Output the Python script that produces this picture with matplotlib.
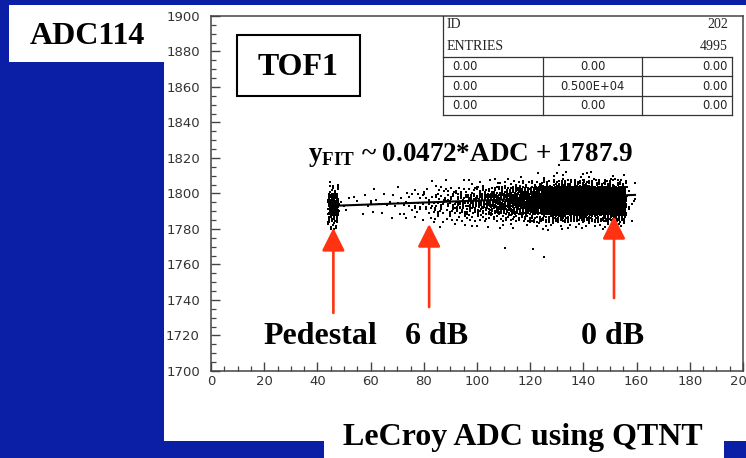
import numpy as np
import matplotlib
matplotlib.use('Agg')
import matplotlib.pyplot as plt
from matplotlib.patches import Rectangle
from matplotlib.lines import Line2D

# ---------------- data ----------------
x_bin_edges = [44, 48, 52, 56, 60, 64, 68, 72, 76, 80, 84, 88, 92, 96, 100, 104,
               108, 112, 116, 120, 124, 128, 132, 136, 140, 144, 148, 152, 156, 160]
y_bin_edges = [1780, 1784, 1788, 1792, 1796, 1800, 1804, 1808, 1812]
# counts per ADC bin (rows) and TOF bin (columns)
cloud_counts = [
    [9, 16, 35, 45, 30, 9, 2, 0],        # 44  pedestal
    [0, 0, 1, 2, 1, 0, 0, 0],            # 48
    [0, 0, 0, 1, 1, 0, 0, 0],            # 52
    [0, 0, 1, 2, 1, 0, 0, 0],            # 56
    [0, 0, 1, 2, 1, 1, 0, 0],            # 60
    [0, 0, 1, 2, 1, 0, 0, 0],            # 64
    [0, 1, 1, 2, 2, 1, 0, 0],            # 68
    [0, 1, 2, 3, 2, 1, 0, 0],            # 72
    [0, 2, 3, 4, 3, 1, 0, 0],            # 76
    [0, 2, 4, 5, 4, 2, 1, 0],            # 80
    [1, 3, 6, 7, 6, 3, 1, 0],            # 84
    [1, 3, 7, 9, 8, 4, 1, 0],            # 88
    [1, 4, 9, 12, 10, 5, 1, 0],          # 92
    [1, 5, 10, 14, 13, 6, 2, 0],         # 96
    [1, 5, 12, 17, 16, 8, 2, 0],         # 100
    [1, 6, 15, 21, 20, 10, 3, 0],        # 104
    [2, 7, 18, 26, 25, 13, 3, 0],        # 108
    [2, 8, 21, 31, 30, 16, 4, 0],        # 112
    [2, 9, 25, 37, 36, 20, 5, 1],        # 116
    [2, 11, 32, 48, 47, 26, 6, 1],       # 120
    [3, 13, 42, 66, 64, 36, 9, 1],       # 124
    [3, 15, 52, 82, 80, 45, 11, 2],      # 128
    [3, 16, 58, 92, 90, 50, 12, 2],      # 132
    [3, 17, 60, 96, 96, 53, 13, 2],      # 136
    [3, 16, 58, 92, 91, 50, 12, 2],      # 140
    [3, 15, 53, 84, 83, 46, 10, 1],      # 144
    [4, 17, 56, 88, 88, 50, 11, 2],      # 148
    [4, 17, 54, 84, 84, 46, 10, 2],      # 152
    [0, 1, 2, 3, 3, 2, 1, 0],            # 156
]
outlier_x = [110.7, 121.0, 125.0, 126.7, 130.8, 143.0]
outlier_y = [1769.5, 1769.0, 1764.0, 1779.2, 1816.0, 1812.0]

fit_x = [44.7, 159.4]
fit_y = [1793.0, 1799.2]
fit_label = '0.0472*ADC + 1787.9'

arrow_x = [46.0, 82.0, 151.5]
arrow_tip = [1780.6, 1782.8, 1787.3]
arrow_tail = [1732.7, 1736.0, 1741.1]
arrow_labels = ['Pedestal', '6 dB', '0 dB']

x_major = list(range(0, 201, 20))
y_major = list(range(1700, 1901, 20))

stats_id = ('ID', '202')
stats_entries = ('ENTRIES', '4995')
stats_rows = [['0.00', '0.00', '0.00'],
              ['0.00', '0.500E+04', '0.00'],
              ['0.00', '0.00', '0.00']]

title_left = 'ADC114'
title_box = 'TOF1'
xlabel = 'LeCroy ADC using QTNT'

# ---------------- figure ----------------
W, H = 746, 458
BLUE = '#0a1fa6'
RED = '#ff3311'
SERIF = ['Liberation Serif', 'DejaVu Serif']

plt.rcParams['mathtext.fontset'] = 'custom'
plt.rcParams['mathtext.bf'] = 'Liberation Serif:bold'
plt.rcParams['mathtext.rm'] = 'Liberation Serif:bold'

fig = plt.figure(figsize=(W / 100, H / 100), dpi=100, facecolor=BLUE)

bg = fig.add_axes([0, 0, 1, 1], zorder=0)
bg.set_xlim(0, W); bg.set_ylim(H, 0); bg.axis('off')
bg.add_patch(Rectangle((164, 5), W - 164, 441 - 5, facecolor='white', edgecolor='none'))
bg.add_patch(Rectangle((324, 440), 724 - 324, H - 440, facecolor='white', edgecolor='none'))
bg.add_patch(Rectangle((9, 5), 164 - 9, 62 - 5, facecolor='white', edgecolor='none'))

ax = fig.add_axes([211 / W, 1 - 371 / H, (743 - 211) / W, (371 - 16) / H], zorder=1)
ax.set_facecolor('none')
ax.set_xlim(0, 200)
ax.set_ylim(1700, 1900)
ax.set_xticks(x_major)
ax.set_yticks(y_major)
ax.set_xticks(np.arange(0, 201, 5), minor=True)
ax.set_yticks(np.arange(1700, 1901, 5), minor=True)
ax.tick_params(which='both', direction='in', top=False, right=False,
               colors='#444444', labelcolor='#333333', labelsize=9.5)
ax.tick_params(which='major', length=6.5, width=1.0)
ax.tick_params(which='minor', length=3.3, width=0.9)
ax.tick_params(axis='x', pad=3)
ax.tick_params(axis='y', pad=8)
for s in ax.spines.values():
    s.set_color('#444444')
    s.set_linewidth(1.1)

# scatter cloud: points spread inside each cell with a fixed R2 sequence
g = 1.32471795724474602596
a1, a2 = 1.0 / g, 1.0 / (g * g)
px, py = [], []
k = 0
for i, col in enumerate(cloud_counts):
    x0, x1 = x_bin_edges[i], x_bin_edges[i + 1]
    for j, n in enumerate(col):
        y0, y1 = y_bin_edges[j], y_bin_edges[j + 1]
        for m in range(n):
            u = (0.5 + a1 * k) % 1.0
            v = (0.5 + a2 * k) % 1.0
            px.append(x0 + u * (x1 - x0))
            py.append(y0 + v * (y1 - y0))
            k += 1
ax.scatter(px, py, s=1.0, marker='s', c='black', linewidths=0, zorder=2)
ax.scatter(outlier_x, outlier_y, s=1.4, marker='s', c='black', linewidths=0, zorder=2)

ax.plot(fit_x, fit_y, color='black', lw=1.5, zorder=3)

for xa, yt, yb in zip(arrow_x, arrow_tip, arrow_tail):
    ax.annotate('', xy=(xa, yt), xytext=(xa, yb),
                arrowprops=dict(arrowstyle='-|>,head_length=1.0,head_width=0.5',
                                mutation_scale=14, color=RED, lw=1.9,
                                shrinkA=0, shrinkB=0), zorder=4)

# overlay in pixel coordinates
ov = fig.add_axes([0, 0, 1, 1], zorder=5)
ov.set_xlim(0, W); ov.set_ylim(H, 0); ov.axis('off')
ov.patch.set_alpha(0)

big = dict(family=SERIF, fontweight='bold', fontsize=23, color='black')
ov.text(87.5, 44, title_left, ha='center', va='baseline', **big)
ov.add_patch(Rectangle((237, 35), 360 - 237, 96 - 35, facecolor='white',
                       edgecolor='black', lw=1.5))
ov.text(298, 75, title_box, ha='center', va='baseline', **big)

for lab, xa in zip(arrow_labels, [320, 437, 613]):
    ov.text(xa, 343.5, lab, ha='center', va='baseline', **big)
ov.text(523, 445, xlabel, ha='center', va='baseline', **big)

ov.text(470, 161, r'$\mathbf{y}_{\mathbf{FIT}}$' + ' ~ ' + fit_label, ha='center',
        va='baseline', family=SERIF, fontweight='bold', fontsize=19.5, color='black')

# stats box
lc = '#333333'
ov.add_line(Line2D([443, 443], [16, 115], color=lc, lw=0.9))
for yl in [57, 76, 96, 115]:
    ov.add_line(Line2D([443, 732], [yl, yl], color=lc, lw=0.9))
for xl in [543, 642, 732]:
    ov.add_line(Line2D([xl, xl], [57, 115], color=lc, lw=0.9))
ser = dict(family=SERIF, fontsize=10, color='#222222', va='center')
num = dict(family='DejaVu Sans', fontsize=8.3, color='#222222', va='center')
ov.text(447, 25, stats_id[0], ha='left', **ser)
ov.text(728, 25, stats_id[1], ha='right', **ser)
ov.text(447, 46, stats_entries[0], ha='left', **ser)
ov.text(728, 46, stats_entries[1], ha='right', **ser)
for yr, row in zip([66.5, 86, 105.5], stats_rows):
    ov.text(452, yr, row[0], ha='left', **num)
    ov.text(592.5, yr, row[1], ha='center', **num)
    ov.text(728, yr, row[2], ha='right', **num)

fig.savefig('out.png', dpi=100, facecolor=BLUE)
